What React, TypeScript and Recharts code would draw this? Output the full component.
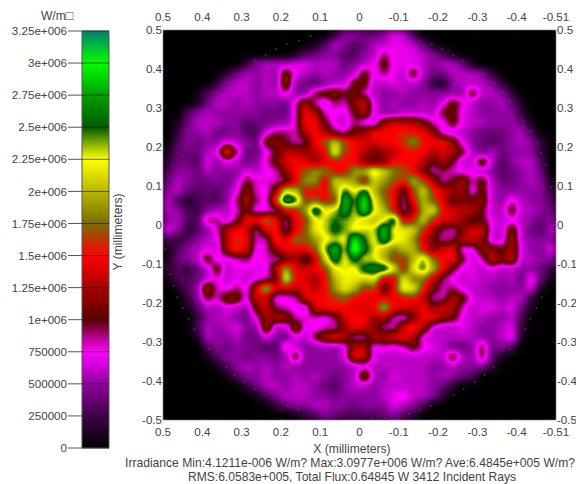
import { Bar, BarChart, CartesianGrid, ReferenceLine, Scatter, ScatterChart, XAxis, YAxis } from "recharts";

// irradiance, in units of 100000 W/m2, top row first, left column first
const row00 = [0,0,0,0,0,0,0,0,0,0, 0,0,0,0,0,0,0,2,5,5, 4,4,5,7,6,3,0,0,0,0, 0,0,0,0,0,0,0,0,0,0];
const row01 = [0,0,0,0,0,0,0,0,0,0, 0,0,0,0,0,1,3,6,5,3, 4,6,6,7,7,6,4,1,0,0, 0,0,0,0,0,0,0,0,0,0];
const row02 = [0,0,0,0,0,0,0,0,0,0, 0,0,0,1,3,4,5,5,3,3, 5,6,9,7,7,7,6,5,3,1, 0,0,0,0,0,0,0,0,0,0];
const row03 = [0,0,0,0,0,0,0,0,2,5, 6,6,6,7,7,6,6,6,4,5, 6,7,11,7,7,7,6,5,6,6, 4,1,0,0,0,0,0,0,0,0];
const row04 = [0,0,0,0,0,0,2,4,6,5, 6,5,12,7,6,5,6,5,5,6, 11,7,9,7,6,11,6,4,4,6, 6,6,5,2,0,0,0,0,0,0];
const row05 = [0,0,0,0,0,2,5,6,6,5, 6,5,13,5,4,3,5,6,6,11, 11,6,6,7,6,6,5,2,1,5, 6,6,6,5,2,0,0,0,0,0];
const row06 = [0,0,0,1,3,5,6,6,6,5, 6,6,8,5,5,10,11,12,10,11, 8,6,5,5,6,5,5,5,5,5, 5,11,6,6,5,2,0,0,0,0];
const row07 = [0,0,0,1,4,6,6,5,6,5, 5,5,4,8,13,8,6,9,8,12, 14,7,5,6,5,5,6,5,7,11, 8,6,5,5,6,4,1,0,0,0];
const row08 = [0,0,3,5,6,5,5,5,5,5, 4,4,4,8,15,13,8,7,7,10, 13,7,5,5,6,6,6,6,10,11, 7,6,5,5,5,5,2,0,0,0];
const row09 = [0,1,4,6,6,6,5,5,3,4, 4,5,5,8,15,15,10,7,6,9, 7,6,12,14,13,13,11,8,7,11, 7,6,6,5,5,5,4,1,0,0];
const row10 = [0,2,5,5,6,4,4,5,3,3, 7,9,9,8,13,15,13,9,8,11, 12,15,15,15,16,15,15,12,7,6, 6,5,4,4,4,5,6,3,0,0];
const row11 = [0,3,5,4,5,5,7,6,5,4, 11,12,10,8,9,15,17,21,17,15, 14,14,15,15,16,19,15,15,15,12, 7,5,4,3,4,5,6,5,2,0];
const row12 = [1,4,4,4,6,7,17,9,4,4, 7,10,13,13,12,13,15,23,16,15, 13,11,12,13,15,15,15,13,14,13, 10,6,4,6,4,5,5,5,2,0];
const row13 = [2,4,4,3,7,5,7,6,4,5, 8,11,14,15,14,12,14,15,15,15, 11,10,11,15,15,15,13,10,13,10, 6,6,12,6,3,5,6,6,3,0];
const row14 = [3,5,5,4,6,5,5,5,7,6, 7,8,12,15,17,19,18,15,15,19, 20,24,21,18,17,15,11,8,9,8, 7,7,6,5,3,4,5,6,4,0];
const row15 = [4,6,5,4,4,5,4,6,10,8, 8,8,9,14,19,19,14,21,20,19, 14,21,19,17,16,20,17,13,8,10, 13,8,11,6,4,4,5,6,5,1];
const row16 = [5,6,4,3,4,3,5,7,12,8, 7,12,22,20,15,15,15,19,25,22, 26,20,17,15,9,17,21,16,14,12, 12,7,11,6,5,5,5,5,5,2];
const row17 = [6,3,1,3,3,3,5,9,13,9, 7,17,29,26,16,17,15,16,29,24, 30,22,18,15,8,15,20,17,14,10, 11,11,12,6,5,8,6,5,5,3];
const row18 = [6,5,3,2,5,6,6,8,11,7, 7,8,14,15,19,28,22,23,28,23, 30,23,20,15,8,12,20,22,15,14, 13,13,10,6,6,11,6,6,5,4];
const row19 = [5,6,3,3,9,9,6,9,15,15, 18,15,8,15,16,22,23,25,24,23, 21,20,22,27,14,16,21,16,14,14, 12,9,10,7,6,7,6,5,4,5];
const row20 = [7,5,2,3,5,8,13,15,14,8, 14,16,8,14,17,22,23,26,24,22, 23,23,29,22,22,21,16,12,9,8, 11,14,14,7,6,12,6,4,3,6];
const row21 = [3,2,3,5,6,7,13,16,15,8, 8,16,14,18,17,19,22,23,22,30, 25,22,28,23,22,19,14,11,8,9, 13,14,12,6,6,13,6,5,5,5];
const row22 = [1,3,5,6,7,6,13,16,14,7, 8,12,15,14,15,17,24,29,23,32, 26,23,20,18,20,20,15,11,14,15, 7,7,12,12,10,13,7,5,5,7];
const row23 = [1,4,5,6,11,7,7,8,9,7, 8,8,10,13,8,13,21,27,22,26, 23,23,20,16,16,20,24,18,15,15, 10,6,8,14,11,14,6,6,5,5];
const row24 = [2,3,2,4,6,11,6,7,7,7, 7,13,20,14,14,15,16,22,23,22, 26,27,27,22,15,22,25,20,15,10, 7,7,6,7,6,6,5,5,4,2];
const row25 = [1,3,3,4,6,8,6,7,6,7, 8,10,23,15,14,12,15,20,22,22, 21,22,14,14,22,18,18,14,9,7, 6,7,6,6,5,6,4,8,4,1];
const row26 = [0,1,3,5,14,8,7,9,7,14, 21,14,14,13,15,13,15,19,22,20, 16,17,9,15,23,22,16,11,8,9, 7,6,6,5,5,5,5,7,1,0];
const row27 = [0,0,2,5,10,8,12,12,7,14, 13,7,7,8,14,15,15,16,17,15, 15,14,15,14,15,16,13,8,8,13, 11,7,6,6,5,6,6,2,0,0];
const row28 = [0,0,1,3,6,5,7,6,5,11, 14,9,8,7,6,14,15,15,15,14, 14,15,20,15,14,13,15,12,14,13, 8,6,7,7,6,7,4,1,0,0];
const row29 = [0,0,0,2,5,6,6,5,4,8, 12,13,13,8,8,8,7,9,14,15, 15,12,13,8,7,11,15,15,12,11, 7,6,6,5,5,6,3,0,0,0];
const row30 = [0,0,0,3,6,5,6,7,5,5, 13,6,6,13,7,7,8,8,12,15, 14,12,8,8,14,16,13,7,6,6, 7,6,5,5,6,7,2,0,0,0];
const row31 = [0,0,0,1,6,5,5,6,4,4, 7,5,4,7,6,10,13,15,13,8, 8,13,13,14,15,13,7,6,6,6, 6,6,5,5,6,8,1,0,0,0];
const row32 = [0,0,0,0,3,5,4,5,5,4, 3,3,9,6,5,5,6,5,7,13, 13,7,8,7,8,11,8,7,6,4, 4,5,10,4,5,3,0,0,0,0];
const row33 = [0,0,0,0,1,3,5,5,4,5, 5,4,5,11,5,5,5,5,7,15, 14,7,6,6,6,6,6,6,6,11, 6,5,10,4,1,0,0,0,0,0];
const row34 = [0,0,0,0,0,1,3,5,6,5, 6,5,6,5,5,5,5,5,5,6, 7,6,6,6,6,6,6,5,5,6, 5,5,5,2,0,0,0,0,0,0];
const row35 = [0,0,0,0,0,0,1,3,5,5, 6,5,5,6,5,6,5,4,5,6, 13,6,5,7,6,6,6,5,6,5, 4,3,0,0,0,0,0,0,0,0];
const row36 = [0,0,0,0,0,0,0,0,2,4, 6,6,5,6,6,5,4,3,5,6, 6,5,6,6,6,6,6,5,4,2, 0,0,0,0,0,0,0,0,0,0];
const row37 = [0,0,0,0,0,0,0,0,0,1, 3,5,6,6,6,5,5,4,5,5, 5,5,6,7,8,6,6,5,2,0, 0,0,0,0,0,0,0,0,0,0];
const row38 = [0,0,0,0,0,0,0,0,0,0, 0,2,4,5,5,6,6,5,5,4, 5,5,5,7,6,5,3,0,0,0, 0,0,0,0,0,0,0,0,0,0];
const row39 = [0,0,0,0,0,0,0,0,0,0, 0,0,0,1,2,3,5,4,3,3, 3,3,4,5,3,2,0,0,0,0, 0,0,0,0,0,0,0,0,0,0];

const irradianceRows = [
  row00, row01, row02, row03, row04, row05, row06, row07, row08, row09,
  row10, row11, row12, row13, row14, row15, row16, row17, row18, row19,
  row20, row21, row22, row23, row24, row25, row26, row27, row28, row29,
  row30, row31, row32, row33, row34, row35, row36, row37, row38, row39,
];

// stray single rays round the rim of the spot, in millimeters
const strayX = [.185,.154,.125,.212,.239,.267,.318,.341,.365,.382,.434,.462,.475,.483,-.154,-.184,-.21,-.239,-.265,-.318,-.341,-.361,-.382,-.42,-.437,-.451,-.462,-.475,-.488,.496,.494,.483,.473,.463,.45,.435,.42,.382,.338,.318,.295,.265,.239,.183,.155,-.463,-.45,-.435,-.422,-.382,-.341,-.318,-.293,-.265,-.239,-.183,-.155,-.125,-.064,-.033];
const strayY = [.464,.473,.484,.451,.436,.421,.385,.364,.342,.319,.24,.185,.155,.125,.473,.464,.451,.436,.421,.385,.364,.342,.319,.265,.24,.213,.185,.155,.097,-.031,-.062,-.126,-.156,-.185,-.213,-.241,-.267,-.318,-.364,-.385,-.403,-.421,-.436,-.464,-.474,-.185,-.213,-.241,-.267,-.318,-.364,-.385,-.403,-.421,-.436,-.464,-.474,-.485,-.495,-.495];

const axisTicks = [0.5, 0.4, 0.3, 0.2, 0.1, 0, -0.1, -0.2, -0.3, -0.4, -0.5];
const gridTicks = [0.4, 0.3, 0.2, 0.1, 0, -0.1, -0.2, -0.3, -0.4];
const barTicks = [0, 250000, 500000, 750000, 1000000, 1250000, 1500000, 1750000, 2000000, 2250000, 2500000, 2750000, 3000000, 3250000];
const barTickLabels = ["0", "250000", "500000", "750000", "1e+006", "1.25e+006", "1.5e+006", "1.75e+006", "2e+006", "2.25e+006", "2.5e+006", "2.75e+006", "3e+006", "3.25e+006"];
// one colour per bar tick
const barColors = ["#000000", "#400048", "#9000a0", "#ff00ff", "#5a0000", "#a80000", "#ff0000", "#7a6c00", "#b8b800", "#ffff00", "#005a00", "#00a000", "#00ff00", "#007f70"];

const MAX_VALUE = 3250000;
const FONT = "'Liberation Sans', Arial, sans-serif";
const TEXT = "#444";
const CELL_W = 393 / 40;
const CELL_H = 390 / 40;

const cells = irradianceRows.flatMap((row, j) =>
  row.map((v, i) => ({
    x: 0.5 - (i + 0.5) * 0.025,
    y: 0.5 - (j + 0.5) * 0.025,
    value: v * 100000,
  })),
);
const strays = strayX.map((x, i) => ({ x, y: strayY[i] }));
const barData = [{ name: "irradiance", value: MAX_VALUE }];

const channel = (hex: string, start: number) => parseInt(hex.slice(start, start + 2), 16) / 255;
const table = (start: number) => barColors.map((c) => channel(c, start).toFixed(3)).join(" ");

// cells are painted as grey levels, the filter blurs them and maps grey to the colour bar
const HeatCell = ({ cx, cy, payload }: any) => {
  const g = Math.round(Math.min(payload.value / MAX_VALUE, 1) * 255);
  return <rect x={cx - CELL_W / 2} y={cy - CELL_H / 2} width={CELL_W + 0.5} height={CELL_H + 0.5} fill={`rgb(${g},${g},${g})`} />;
};
const StrayDot = ({ cx, cy }: any) => <rect x={cx - 0.75} y={cy - 0.75} width={1.5} height={1.5} fill="#0c6e0c" />;

const tickStyle = { fontSize: 11.6, fontFamily: FONT, fill: TEXT };
const xLabel = (v: number) => (v === -0.5 ? "-0.51" : String(v));

const Caption = ({ x, y, rotate, children }: any) => (
  <div
    style={{
      position: "absolute",
      left: x,
      top: y,
      transform: `translate(-50%, -50%)${rotate ? ` rotate(${rotate}deg)` : ""}`,
      whiteSpace: "nowrap",
      fontFamily: FONT,
      fontSize: 12.1,
      color: TEXT,
    }}
  >
    {children}
  </div>
);

const App = () => {
  return (
    <div style={{ position: "absolute", left: 0, top: 0, width: 576, height: 484, overflow: "hidden", background: "#fff" }}>
      <style>{`.heat-cells { filter: url(#heat); }`}</style>

      <div style={{ position: "absolute", left: 0, top: 0 }}>
        <BarChart width={120} height={484} data={barData} margin={{ top: 31, right: 11, bottom: 36, left: 0 }} barCategoryGap={0}>
          <defs>
            <linearGradient id="barFill" x1="0" y1="1" x2="0" y2="0">
              {barColors.map((c, i) => (
                <stop key={c} offset={barTicks[i] / MAX_VALUE} stopColor={c} />
              ))}
            </linearGradient>
          </defs>
          <XAxis dataKey="name" hide />
          <YAxis
            width={82}
            domain={[0, MAX_VALUE]}
            ticks={barTicks}
            interval={0}
            tickSize={14}
            tickMargin={1}
            tick={tickStyle}
            tickFormatter={(v: number) => barTickLabels[barTicks.indexOf(v)]}
            stroke="#555"
            axisLine={false}
          />
          <Bar dataKey="value" fill="url(#barFill)" stroke="#555" isAnimationActive={false} />
          {barTicks.map((t) => (
            <ReferenceLine key={t} y={t} stroke="#222" strokeOpacity={0.7} />
          ))}
        </BarChart>
      </div>

      <div style={{ position: "absolute", left: 0, top: 0 }}>
        <ScatterChart width={576} height={484} margin={{ top: 10, right: 0, bottom: 44, left: 133 }}>
          <defs>
            <filter id="heat" filterUnits="userSpaceOnUse" x={163} y={30} width={393} height={390} colorInterpolationFilters="sRGB">
              <feGaussianBlur stdDeviation={3.5} />
              <feComponentTransfer>
                <feFuncR type="table" tableValues={table(1)} />
                <feFuncG type="table" tableValues={table(3)} />
                <feFuncB type="table" tableValues={table(5)} />
                <feFuncA type="linear" slope={1} />
              </feComponentTransfer>
            </filter>
          </defs>
          <CartesianGrid xAxisId="bottom" yAxisId="left" fill="#000" horizontal={false} vertical={false} />
          <XAxis xAxisId="bottom" type="number" dataKey="x" orientation="bottom" height={20} reversed domain={[-0.5, 0.5]} ticks={axisTicks} interval={0} tickSize={0} tickMargin={8} tick={tickStyle} tickFormatter={xLabel} stroke="#aaa" />
          <XAxis xAxisId="top" type="number" dataKey="x" orientation="top" height={20} reversed domain={[-0.5, 0.5]} ticks={axisTicks} interval={0} tickSize={0} tickMargin={9} tick={tickStyle} tickFormatter={xLabel} stroke="#aaa" />
          <YAxis yAxisId="left" type="number" dataKey="y" orientation="left" width={30} domain={[-0.5, 0.5]} ticks={axisTicks} interval={0} tickSize={0} tickMargin={1} tick={tickStyle} stroke="#aaa" />
          <YAxis yAxisId="right" type="number" dataKey="y" orientation="right" width={20} domain={[-0.5, 0.5]} ticks={axisTicks} interval={0} tickSize={0} tickMargin={1} tick={tickStyle} stroke="#aaa" />
          <Scatter className="heat-cells" xAxisId="bottom" yAxisId="left" data={cells} shape={HeatCell} isAnimationActive={false} />
          <Scatter xAxisId="top" yAxisId="right" data={strays} shape={StrayDot} isAnimationActive={false} />
          {gridTicks.map((t) => (
            <ReferenceLine key={`v${t}`} xAxisId="bottom" yAxisId="left" x={t} stroke="#5a5a5a" strokeDasharray="2 3" />
          ))}
          {gridTicks.map((t) => (
            <ReferenceLine key={`h${t}`} xAxisId="bottom" yAxisId="left" y={t} stroke="#5a5a5a" strokeDasharray="2 3" />
          ))}
        </ScatterChart>
      </div>

      <Caption x={57} y={16}>W/m□</Caption>
      <Caption x={118} y={232} rotate={-90}>Y (millimeters)</Caption>
      <Caption x={352} y={449}>X (millimeters)</Caption>
      <Caption x={350} y={463}>Irradiance Min:4.1211e-006 W/m? Max:3.0977e+006 W/m? Ave:6.4845e+005 W/m?</Caption>
      <Caption x={352} y={477}>RMS:6.0583e+005, Total Flux:0.64845 W 3412 Incident Rays</Caption>
    </div>
  );
};

export default App;
